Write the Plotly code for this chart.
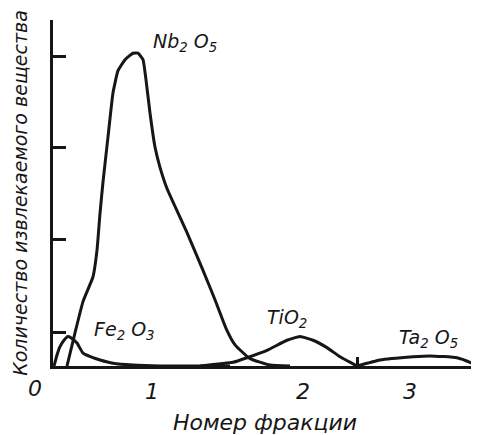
import plotly.graph_objects as go

# ---- data (fraction number on x, amount in arbitrary units on y) ----
nb_x = [0.256, 0.32, 0.384, 0.464, 0.496, 0.52, 0.544, 0.584, 0.624, 0.664, 0.72,
        0.784, 0.824, 0.864, 0.888, 0.92, 0.96, 1.0, 1.056, 1.216, 1.344, 1.44,
        1.528, 1.6, 1.72, 1.88, 2.04]
nb_y = [0.0, 0.36, 0.70, 0.97, 1.26, 1.66, 2.0, 2.49, 2.97, 3.21, 3.33,
        3.40, 3.40, 3.33, 3.11, 2.75, 2.38, 2.16, 1.93, 1.45, 1.04, 0.72,
        0.41, 0.23, 0.08, 0.01, 0.0]

fe_x = [0.152, 0.176, 0.2, 0.232, 0.264, 0.296, 0.336, 0.384, 0.464, 0.52, 0.624, 0.784, 1.0, 1.56]
fe_y = [0.0, 0.12, 0.21, 0.28, 0.32, 0.30, 0.25, 0.14, 0.09, 0.065, 0.03, 0.01, 0.0, 0.0]

ti_x = [1.32, 1.584, 1.696, 1.856, 2.016, 2.12, 2.224, 2.336, 2.44, 2.576]
ti_y = [0.0, 0.04, 0.09, 0.17, 0.28, 0.32, 0.28, 0.20, 0.10, 0.0]

ta_x = [2.576, 2.76, 3.024, 3.16, 3.376, 3.48, 3.536]
ta_y = [0.0, 0.065, 0.10, 0.11, 0.09, 0.04, 0.0]

series_names = ["Nb<sub>2</sub> O<sub>5</sub>", "Fe<sub>2</sub> O<sub>3</sub>",
                "TiO<sub>2</sub>", "Ta<sub>2</sub> O<sub>5</sub>"]

x_tick_vals = [0.0, 0.936, 2.144, 3.0]
x_tick_text = ["0", "1", "2", "3"]
x_mark_vals = [2.576, 3.528]
y_tick_vals = [0.36, 1.37, 2.37, 3.36]

x_title = "Номер фракции"
y_title = "Количество извлекаемого вещества"

X_MIN, X_MAX = 0.144, 3.536
Y_MIN, Y_MAX = 0.0, 3.761

INK = "#161616"
FONT = "DejaVu Sans"

fig = go.Figure()
for xs, ys, name in [(nb_x, nb_y, series_names[0]), (fe_x, fe_y, series_names[1]),
                     (ti_x, ti_y, series_names[2]), (ta_x, ta_y, series_names[3])]:
    fig.add_trace(go.Scatter(x=xs, y=ys, mode="lines", name=name,
                             line=dict(color=INK, width=3, shape="spline", smoothing=0.4),
                             showlegend=False, hoverinfo="skip"))

# curve labels
label_pos = [(0.93, 3.52), (0.456, 0.39), (1.84, 0.52), (2.896, 0.30)]
for (lx, ly), name in zip(label_pos, series_names):
    fig.add_annotation(x=lx, y=ly, xref="x", yref="y", text=name, showarrow=False,
                       xanchor="left", yanchor="middle",
                       font=dict(family=FONT, size=19, color=INK, style="italic"))

in_range = [(v, t) for v, t in zip(x_tick_vals, x_tick_text) if X_MIN <= v <= X_MAX]
out_range = [(v, t) for v, t in zip(x_tick_vals, x_tick_text) if not (X_MIN <= v <= X_MAX)]
for v, t in out_range:
    fig.add_annotation(x=(v - X_MIN) / (X_MAX - X_MIN), y=0, xref="paper", yref="paper",
                       text=t, showarrow=False,
                       xanchor="center", yanchor="top", yshift=-8,
                       font=dict(family=FONT, size=22, color=INK, style="italic"))

# the page body keeps an 8 px margin, so the figure is 8 px smaller on each side
fig.update_layout(
    width=471, height=427,
    margin=dict(l=45, r=2, t=12, b=69),
    paper_bgcolor="white", plot_bgcolor="white",
    showlegend=False,
)
fig.update_xaxes(
    range=[X_MIN, X_MAX], showgrid=False, zeroline=False, automargin=False,
    showline=True, linecolor=INK, linewidth=3,
    tickmode="array", tickvals=[v for v, _ in in_range], ticktext=[t for _, t in in_range],
    ticks="", ticklabelstandoff=4,
    tickfont=dict(family=FONT, size=22, color=INK, style="italic"),
    minor=dict(tickmode="array", tickvals=x_mark_vals, ticks="inside", ticklen=9,
               tickwidth=3, tickcolor=INK, showgrid=False),
    title=dict(text=x_title, standoff=13,
               font=dict(family=FONT, size=22, color=INK, style="italic")),
)
fig.update_yaxes(
    range=[Y_MIN, Y_MAX], showgrid=False, zeroline=False, automargin=False,
    showline=True, linecolor=INK, linewidth=3,
    tickmode="array", tickvals=y_tick_vals, ticks="inside", ticklen=13,
    tickwidth=3, tickcolor=INK, showticklabels=False,
    title=dict(text=y_title, standoff=18,
               font=dict(family=FONT, size=19, color=INK, style="italic")),
)

fig.write_html("out.html")
